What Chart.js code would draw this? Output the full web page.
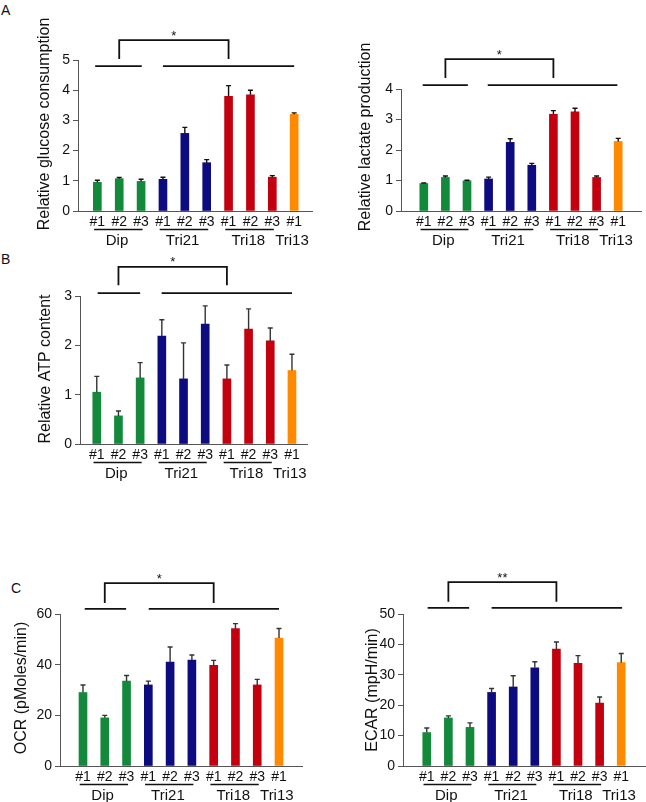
<!DOCTYPE html>
<html>
<head>
<meta charset="utf-8">
<script src="https://cdn.jsdelivr.net/npm/chart.js@4.4.1/dist/chart.umd.min.js"></script>
<style>
  body { margin: 0; background: #fff; width: 646px; height: 802px; position: relative; overflow: hidden;
         font-family: Arial, "Liberation Sans", sans-serif; }
  canvas { position: absolute; }
  .letter { position: absolute; font-size: 14px; color: #111; line-height: 14px; }
</style>
</head>
<body>
<div class="letter" style="left:1px;top:3px">A</div>
<div class="letter" style="left:1px;top:252px">B</div>
<div class="letter" style="left:11px;top:581px">C</div>

<canvas id="glucoseChart" width="320" height="250" style="left:0;top:0"></canvas>
<canvas id="lactateChart" width="326" height="250" style="left:320px;top:0"></canvas>
<canvas id="atpChart" width="320" height="235" style="left:0;top:250px"></canvas>
<canvas id="ocrChart" width="320" height="317" style="left:0;top:485px"></canvas>
<canvas id="ecarChart" width="326" height="317" style="left:320px;top:485px"></canvas>

<script>
// samples and groups
const sampleLabels = ['#1', '#2', '#3', '#1', '#2', '#3', '#1', '#2', '#3', '#1'];
const groupNames = ['Dip', 'Tri21', 'Tri18', 'Tri13'];
const sampleGroup = [0, 0, 0, 1, 1, 1, 2, 2, 2, 3];
const groupColors = ['#13893b', '#0d0b80', '#c4000f', '#ff8a00'];

// A - glucose consumption
const glucoseValues = [0.95, 1.07, 0.98, 1.05, 2.57, 1.60, 3.80, 3.85, 1.12, 3.20];
const glucoseErrors = [0.07, 0.04, 0.07, 0.07, 0.20, 0.10, 0.35, 0.15, 0.05, 0.05];
const glucoseTicks = [0, 1, 2, 3, 4, 5];

// A - lactate production
const lactateValues = [0.90, 1.10, 0.99, 1.05, 2.25, 1.50, 3.17, 3.25, 1.10, 2.28];
const lactateErrors = [0.02, 0.05, 0.02, 0.06, 0.12, 0.06, 0.12, 0.12, 0.05, 0.10];
const lactateTicks = [0, 1, 2, 3, 4];

// B - ATP content
const atpValues = [1.05, 0.57, 1.34, 2.19, 1.32, 2.43, 1.32, 2.33, 2.09, 1.49];
const atpErrors = [0.32, 0.10, 0.31, 0.33, 0.73, 0.37, 0.28, 0.41, 0.26, 0.33];
const atpTicks = [0, 1, 2, 3];

// C - OCR
const ocrValues = [29.0, 19.0, 33.5, 32.0, 41.0, 41.8, 39.7, 54.2, 32.0, 50.5];
const ocrErrors = [3.0, 1.0, 2.2, 1.5, 6.0, 2.0, 2.0, 2.0, 2.2, 3.8];
const ocrTicks = [0, 20, 40, 60];

// C - ECAR
const ecarValues = [11.0, 15.8, 12.7, 24.2, 26.0, 32.3, 38.5, 33.8, 20.7, 34.0];
const ecarErrors = [1.5, 0.7, 1.5, 1.3, 3.7, 2.0, 2.3, 2.5, 2.0, 3.0];
const ecarTicks = [0, 10, 20, 30, 40, 50];

const FONT = 'Arial, "Liberation Sans", sans-serif';
const INK = '#111';

function groupSpan(g) {
    const idx = sampleGroup.map((s, i) => s === g ? i : -1).filter(i => i >= 0);
    return [idx[0], idx[idx.length - 1]];
}

function makePanel(id, p) {
    const canvas = document.getElementById(id);
    const W = canvas.width, H = canvas.height;

    const annotations = {
        id: 'annotations',
        afterDraw(chart) {
            const ctx = chart.ctx;
            const x = chart.scales.x, y = chart.scales.y;
            const area = chart.chartArea;
            ctx.save();

            // error bars (upper only)
            ctx.strokeStyle = p.errColor;
            ctx.lineWidth = 1.4;
            p.values.forEach((v, i) => {
                const px = x.getPixelForValue(i);
                const y0 = y.getPixelForValue(v);
                const y1 = y.getPixelForValue(v + p.errors[i]);
                ctx.beginPath();
                ctx.moveTo(px, y0);
                ctx.lineTo(px, y1);
                ctx.moveTo(px - 2.5, y1);
                ctx.lineTo(px + 2.5, y1);
                ctx.stroke();
            });

            // significance lines and bracket
            ctx.strokeStyle = INK;
            ctx.lineWidth = 1.8;
            const ly = y.getPixelForValue(p.sig.line);
            [p.sig.left, p.sig.right].forEach(([a, b]) => {
                ctx.beginPath();
                ctx.moveTo(x.getPixelForValue(a), ly);
                ctx.lineTo(x.getPixelForValue(b), ly);
                ctx.stroke();
            });
            const bt = y.getPixelForValue(p.sig.top);
            const bb = y.getPixelForValue(p.sig.leg);
            const bx1 = x.getPixelForValue(1), bx2 = x.getPixelForValue(6);
            ctx.beginPath();
            ctx.moveTo(bx1, bb);
            ctx.lineTo(bx1, bt);
            ctx.lineTo(bx2, bt);
            ctx.lineTo(bx2, bb);
            ctx.stroke();
            ctx.fillStyle = INK;
            ctx.font = '13px ' + FONT;
            ctx.textAlign = 'center';
            ctx.textBaseline = 'middle';
            ctx.fillText(p.sig.mark, (bx1 + bx2) / 2, bt - 4);

            // group underlines and names
            ctx.lineWidth = 1.6;
            ctx.font = '15px ' + FONT;
            groupNames.forEach((name, g) => {
                const [a, b] = groupSpan(g);
                if (b > a) {
                    ctx.beginPath();
                    ctx.moveTo(x.getPixelForValue(a - 0.15), area.bottom + 18.5);
                    ctx.lineTo(x.getPixelForValue(b + 0.07), area.bottom + 18.5);
                    ctx.stroke();
                }
                ctx.fillText(name, x.getPixelForValue((a + b) / 2 - 0.1), area.bottom + 29.5);
            });

            // y axis title
            ctx.save();
            ctx.translate(p.titleX, p.titleY);
            ctx.rotate(-Math.PI / 2);
            ctx.font = '16px ' + FONT;
            ctx.fillText(p.title, 0, 0);
            ctx.restore();

            ctx.restore();
        }
    };

    return new Chart(canvas.getContext('2d'), {
        type: 'bar',
        data: {
            datasets: [{
                data: p.values.map((v, i) => ({ x: i, y: v })),
                backgroundColor: sampleGroup.map(g => groupColors[g]),
                borderWidth: 0,
                barThickness: 8
            }]
        },
        options: {
            responsive: false,
            animation: false,
            layout: { padding: { left: 0, top: p.top, right: W - p.right, bottom: 0 } },
            plugins: { legend: { display: false }, tooltip: { enabled: false } },
            scales: {
                x: {
                    type: 'linear',
                    min: p.xMin,
                    max: p.xMax,
                    afterBuildTicks: s => { s.ticks = sampleLabels.map((l, i) => ({ value: i })); },
                    afterFit: s => { s.height = H - p.bottom; },
                    grid: { display: false, drawTicks: false },
                    border: { display: true, color: '#555', width: 1 },
                    ticks: {
                        autoSkip: false,
                        maxRotation: 0,
                        padding: 3,
                        color: INK,
                        font: { size: 14, family: FONT },
                        callback: v => sampleLabels[v] || ''
                    }
                },
                y: {
                    min: p.ticks[0],
                    max: p.ticks[p.ticks.length - 1],
                    afterBuildTicks: s => { s.ticks = p.ticks.map(v => ({ value: v })); },
                    afterFit: s => { s.width = p.axisX; },
                    grid: { drawOnChartArea: false, tickLength: 5, color: '#555' },
                    border: { display: true, color: '#555', width: 1 },
                    ticks: {
                        padding: 3,
                        color: INK,
                        font: { size: 14, family: FONT }
                    }
                }
            }
        },
        plugins: [annotations]
    });
}

makePanel('glucoseChart', {
    values: glucoseValues, errors: glucoseErrors, ticks: glucoseTicks,
    title: 'Relative glucose consumption', titleX: 45, titleY: 124,
    axisX: 78, right: 312, top: 60, bottom: 211, xMin: -0.35, xMax: 9.28,
    errColor: '#111',
    sig: { mark: '*', line: 4.8, leg: 5.03, top: 5.66, left: [-0.1, 2.03], right: [3.0, 9.0] }
});

makePanel('lactateChart', {
    values: lactateValues, errors: lactateErrors, ticks: lactateTicks,
    title: 'Relative lactate production', titleX: 46, titleY: 137,
    axisX: 81, right: 321, top: 89, bottom: 211, xMin: -0.5, xMax: 9.5,
    errColor: '#111',
    sig: { mark: '*', line: 4.13, leg: 4.36, top: 4.98, left: [-0.05, 2.04], right: [2.96, 8.96] }
});

makePanel('atpChart', {
    values: atpValues, errors: atpErrors, ticks: atpTicks,
    title: 'Relative ATP content', titleX: 46, titleY: 119,
    axisX: 80, right: 307, top: 46, bottom: 194, xMin: -0.25, xMax: 9.17,
    errColor: '#333',
    sig: { mark: '*', line: 3.06, leg: 3.22, top: 3.59, left: [0.04, 2.0], right: [2.99, 9.0] }
});

makePanel('ocrChart', {
    values: ocrValues, errors: ocrErrors, ticks: ocrTicks,
    title: 'OCR (pMoles/min)', titleX: 22, titleY: 203,
    axisX: 60, right: 302, top: 129, bottom: 281, xMin: -0.5, xMax: 9.5,
    errColor: '#333',
    sig: { mark: '*', line: 62, leg: 64.3, top: 72.2, left: [0.08, 1.98], right: [3.02, 9.0] }
});

makePanel('ecarChart', {
    values: ecarValues, errors: ecarErrors, ticks: ecarTicks,
    title: 'ECAR (mpH/min)', titleX: 53, titleY: 205,
    axisX: 83, right: 325, top: 129, bottom: 281, xMin: -0.54, xMax: 9.54,
    errColor: '#333',
    sig: { mark: '**', line: 52, leg: 54, top: 60.5, left: [0.04, 1.96], right: [3.0, 9.04] }
});
</script>
</body>
</html>
